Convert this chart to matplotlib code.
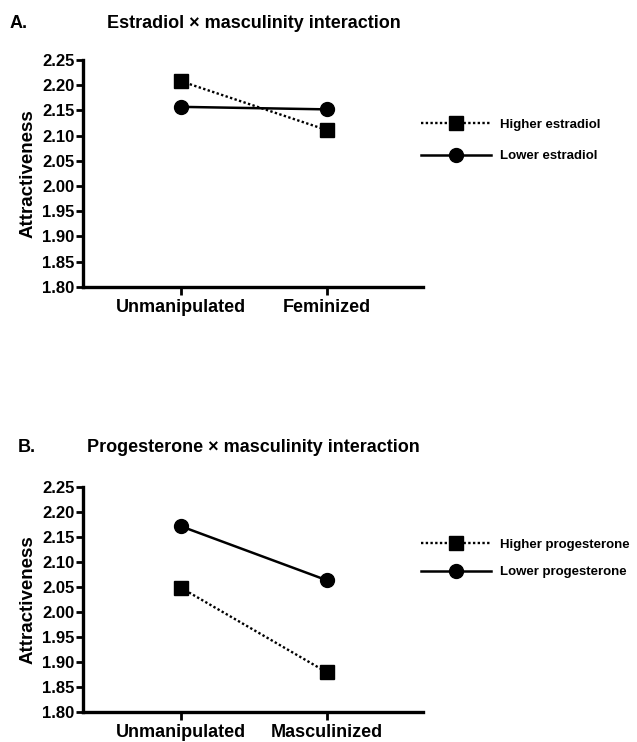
import matplotlib
matplotlib.use("Agg")
import matplotlib.pyplot as plt

plt.rcParams['font.family'] = ['Liberation Sans', 'DejaVu Sans']
plt.rcParams['font.weight'] = 'bold'

# ---- data ----
categories_a = ["Unmanipulated", "Feminized"]
higher_estradiol = [2.208, 2.111]
lower_estradiol = [2.157, 2.152]

categories_b = ["Unmanipulated", "Masculinized"]
higher_progesterone = [2.048, 1.879]
lower_progesterone = [2.171, 2.063]

y_ticks = [1.80, 1.85, 1.90, 1.95, 2.00, 2.05, 2.10, 2.15, 2.20, 2.25]
y_label = "Attractiveness"

W, H = 637, 742
fig = plt.figure(figsize=(W / 100, H / 100), dpi=100)


def px_axes(left, top, right, bottom):
    return fig.add_axes([left / W, 1 - bottom / H, (right - left) / W, (bottom - top) / H])


def panel(ax, cats, hi, lo, hi_label, lo_label, legend_y, labelspacing):
    x = list(range(len(cats)))
    h1, = ax.plot(x, hi, linestyle=(0, (1, 1)), color='black', lw=1.7,
                  marker='s', markersize=9.5, clip_on=False, zorder=3)
    h2, = ax.plot(x, lo, linestyle='-', color='black', lw=1.8,
                  marker='o', markersize=10, clip_on=False, zorder=3)
    ax.set_xlim(-0.67, 1.66)
    ax.set_ylim(1.80, 2.25)
    ax.set_yticks(y_ticks)
    ax.set_yticklabels([f"{v:.2f}" for v in y_ticks])
    ax.set_xticks(x)
    ax.set_xticklabels(cats, fontsize=13, fontweight='bold')
    ax.tick_params(axis='y', labelsize=12, width=2, length=5, pad=1)
    ax.tick_params(axis='x', width=2, length=6, pad=3)
    for s in ['top', 'right']:
        ax.spines[s].set_visible(False)
    for s in ['left', 'bottom']:
        ax.spines[s].set_linewidth(2.4)
    ax.set_ylabel(y_label, fontsize=13.5, fontweight='bold', labelpad=4)
    for lab in ax.get_yticklabels():
        lab.set_fontweight('bold')
    fig.legend([h1, h2], [hi_label, lo_label], loc='center left',
               bbox_to_anchor=(421 / W, 1 - legend_y / H), frameon=False,
               borderpad=0, borderaxespad=0, handlelength=5.3,
               handletextpad=0.65, labelspacing=labelspacing,
               prop={'size': 9.5, 'weight': 'bold'})


ax1 = px_axes(83, 60, 423, 286.7)
panel(ax1, categories_a, higher_estradiol, lower_estradiol,
      "Higher estradiol", "Lower estradiol", 140.5, 1.45)
ax2 = px_axes(83, 486.7, 423, 711.7)
panel(ax2, categories_b, higher_progesterone, lower_progesterone,
      "Higher progesterone", "Lower progesterone", 558.5, 1.12)

fig.text(10 / W, 1 - 23 / H, "A.", fontsize=13, fontweight='bold', va='center', ha='left')
fig.text(107 / W, 1 - 23 / H, "Estradiol × masculinity interaction", fontsize=13,
         fontweight='bold', va='center', ha='left')
fig.text(18 / W, 1 - 448 / H, "B.", fontsize=13, fontweight='bold', va='center', ha='left')
fig.text(87 / W, 1 - 448 / H, "Progesterone × masculinity interaction", fontsize=13,
         fontweight='bold', va='center', ha='left')

fig.savefig("out.png", dpi=100, facecolor='white')
